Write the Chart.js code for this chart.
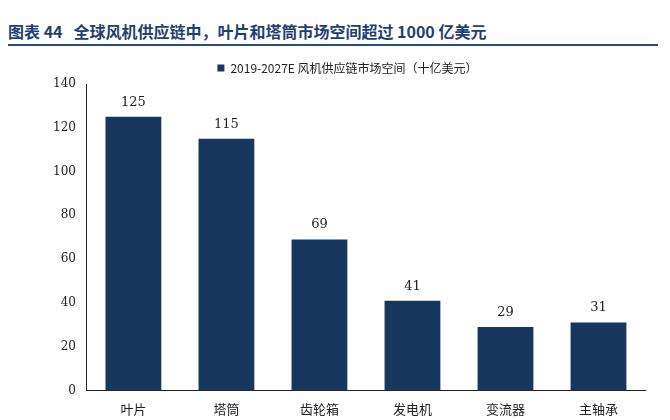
<!DOCTYPE html>
<html><head><meta charset="utf-8">
<script src="https://cdn.jsdelivr.net/npm/chart.js@4"></script>
<style>
body{margin:0;background:#fff;width:670px;height:420px;overflow:hidden;}
#t{position:absolute;left:8px;top:20px;width:650px;height:24px;border-bottom:2px solid #2a4a7a;font-family:"Noto Sans CJK SC";font-weight:bold;font-size:16px;color:#1f3f73;line-height:22px;}
#w{position:absolute;left:0;top:50px;width:670px;height:370px;}
</style></head><body>
<div id="t">图表 44&nbsp;&nbsp;&nbsp;全球风机供应链中，叶片和塔筒市场空间超过 1000 亿美元</div>
<div id="w"><canvas id="c"></canvas></div>
<script>
const categories=["叶片","塔筒","齿轮箱","发电机","变流器","主轴承"];
const values=[125,115,69,41,29,31];
const seriesName="2019-2027E 风机供应链市场空间（十亿美元）";
const labelPlugin={id:'lbl',afterDatasetsDraw(ch){const c=ch.ctx;const m=ch.getDatasetMeta(0);c.save();c.font='13px "DejaVu Serif"';c.fillStyle='#222';c.textAlign='center';c.textBaseline='bottom';m.data.forEach((b,i)=>c.fillText(values[i],b.x,b.y-8));c.restore();}};
new Chart(document.getElementById('c'),{type:'bar',data:{labels:categories,datasets:[{label:seriesName,data:values,backgroundColor:'#17375e',barPercentage:0.6,categoryPercentage:1}]},
options:{responsive:true,maintainAspectRatio:false,animation:false,layout:{padding:{left:50,right:25,top:0,bottom:0}},
plugins:{legend:{labels:{boxWidth:7,boxHeight:7,font:{family:'"Noto Sans CJK SC"',size:12},color:'#222',padding:12}},tooltip:{enabled:false}},
scales:{y:{min:0,max:140,ticks:{stepSize:20,font:{family:'"DejaVu Serif"',size:12},color:'#222'},grid:{display:false},border:{color:'#222'}},
x:{ticks:{font:{family:'"Noto Sans CJK SC"',size:13},color:'#222'},grid:{display:false},border:{color:'#222'}}}},plugins:[labelPlugin]});
</script></body></html>
